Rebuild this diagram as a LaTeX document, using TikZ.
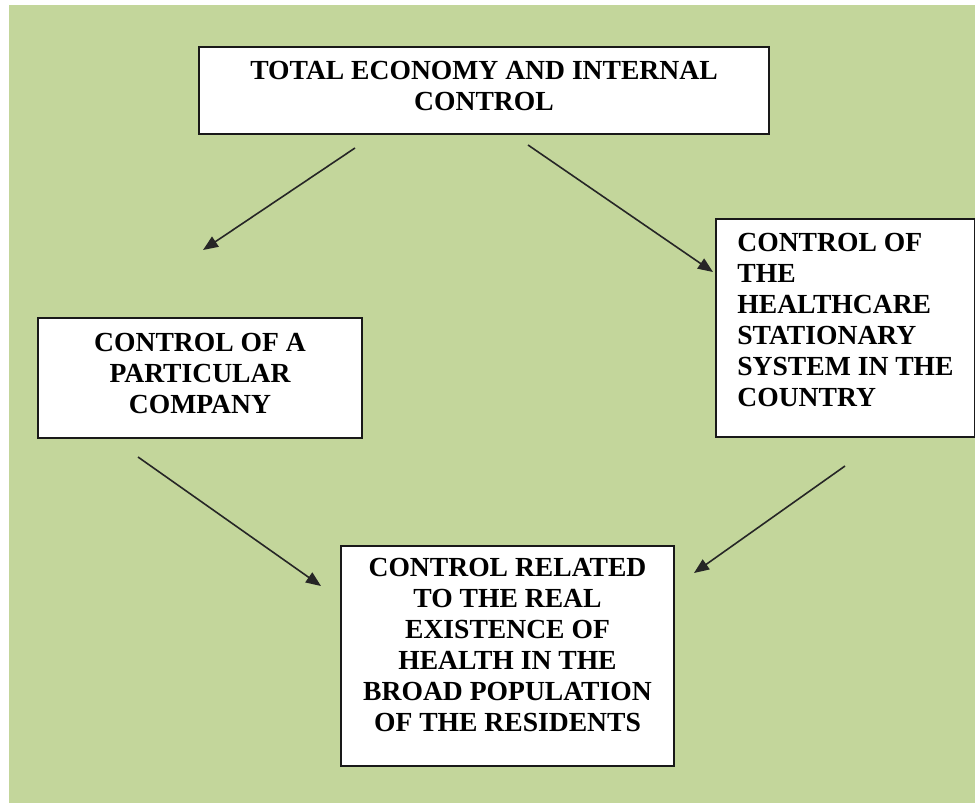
\documentclass[tikz,border=0pt]{standalone}
\usepackage{fontspec}
\setmainfont{Liberation Serif}
\usepackage{tikz}
\usetikzlibrary{arrows.meta, backgrounds, positioning}
\definecolor{olivebg}{HTML}{C3D69B}

\begin{document}
\begin{tikzpicture}[
    x=1pt, y=-1pt,
    box/.style={rectangle, draw=black!90, line width=1.5pt, fill=white, inner sep=0pt, font=\fontsize{27.6}{31}\selectfont\bfseries},
    arrow/.style={line width=1.6pt, draw=black!85, -{Triangle[length=15pt,width=12pt]}}
]
% Page and background
\useasboundingbox (0,0) rectangle (975,803);
\fill[olivebg] (9,5) rectangle (975,803);
% Nodes
\node[box, minimum width=570pt, minimum height=87pt, text depth=9pt, align=center] (total) at (484,90.5) {TOTAL ECONOMY AND INTERNAL\\CONTROL};
\node[box, minimum width=324pt, minimum height=120pt, text depth=10pt, align=center] (company) at (200,378) {CONTROL OF A\\PARTICULAR\\COMPANY};
\node[box, minimum width=259pt, minimum height=218pt, text depth=16pt, align=left] (health) at (845.5,328) {CONTROL OF\\THE\\HEALTHCARE\\STATIONARY\\SYSTEM IN THE\\COUNTRY};
\node[box, minimum width=333pt, minimum height=220pt, text depth=22pt, align=center] (residents) at (507.5,656) {CONTROL RELATED\\TO THE REAL\\EXISTENCE OF\\HEALTH IN THE\\BROAD POPULATION\\OF THE RESIDENTS};
% Arrow ends
\coordinate (t1) at (355,148);
\coordinate (c1) at (203,250);
\coordinate (t2) at (528,145);
\coordinate (h1) at (713,272);
\coordinate (c2) at (138,457);
\coordinate (r1) at (321,586);
\coordinate (h2) at (845,466);
\coordinate (r2) at (694,573);
% Arrows
\draw[arrow] (t1) -- (c1);
\draw[arrow] (t2) -- (h1);
\draw[arrow] (c2) -- (r1);
\draw[arrow] (h2) -- (r2);
\end{tikzpicture}
\end{document}
